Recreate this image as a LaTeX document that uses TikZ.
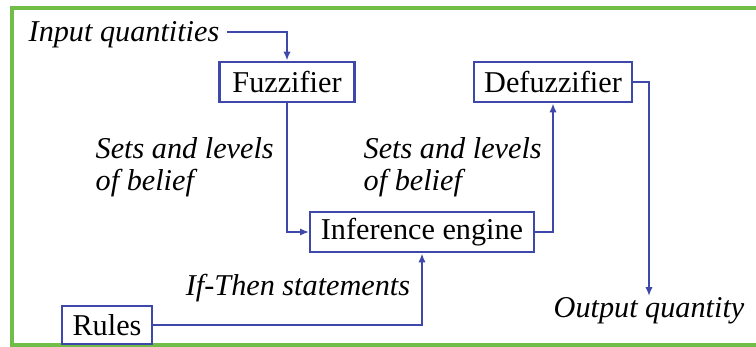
\documentclass[tikz,border=0pt]{standalone}
\usepackage{fontspec}
\setmainfont{Liberation Serif}
\usepackage{xcolor}
\usetikzlibrary{arrows.meta, positioning}

\definecolor{frameGreen}{RGB}{112,190,72}
\definecolor{lineBlue}{RGB}{62,72,170}

\begin{document}
\begin{tikzpicture}[
    x=0.025cm, y=-0.025cm,
    block/.style={rectangle, draw=lineBlue, line width=1.5pt, fill=white, align=center, inner sep=3pt, font=\fontsize{21.5}{25}\selectfont, minimum height=1.02cm},
    lbl/.style={align=left, inner sep=1pt, font=\fontsize{21.5}{23}\selectfont\itshape},
    arr/.style={-{Latex[length=2.2mm, width=1.8mm]}, line width=1.2pt, draw=lineBlue}
]
    \useasboundingbox (0,0) rectangle (756,347);

    % green frame (open to the right)
    \draw[frameGreen, line width=2.5pt] (757,8) -- (12,8) -- (12,345) -- (757,345);

    % blocks
    \node[block, minimum width=3.375cm] (fuzz) at (287, 82) {Fuzzifier};
    \node[block, minimum width=3.95cm] (defuzz) at (553, 82) {Defuzzifier};
    \node[block, minimum width=5.6cm] (inf) at (422, 232) {Inference engine};
    \node[block, minimum width=2.25cm, minimum height=0.95cm] (rules) at (107, 325) {Rules};

    % texts
    \node[lbl, anchor=east] (inq) at (221, 35) {Input quantities};
    \node[lbl, anchor=north] (outq) at (649, 296) {Output quantity};
    \node[lbl] (ifthen) at (298, 288) {If-Then statements};
    \node[lbl, anchor=west] (setsL) at (94, 167) {Sets and levels\\of belief};
    \node[lbl, anchor=west] (setsR) at (362, 167) {Sets and levels\\of belief};

    % connectors
    \draw[arr] (inq.east) ++(6,-3) -| (fuzz.north);
    \draw[arr] (fuzz.south) |- (inf.west);
    \draw[arr] (inf.east) -| (defuzz.south);
    \draw[arr] (defuzz.east) -| (outq.north);
    \draw[arr] (rules.east) -| (inf.south);
\end{tikzpicture}
\end{document}
